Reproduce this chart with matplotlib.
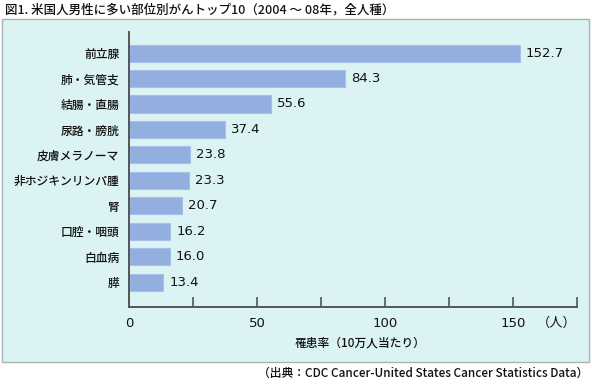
import matplotlib
matplotlib.use("Agg")
import matplotlib.pyplot as plt
from matplotlib.patches import Rectangle

plt.rcParams['font.family'] = ['Noto Sans CJK JP', 'DejaVu Sans']

categories = ["前立腺", "肺・気管支", "結腸・直腸", "尿路・膀胱", "皮膚メラノーマ",
              "非ホジキンリンパ腫", "腎", "口腔・咽頭", "白血病", "膵"]
values = [152.7, 84.3, 55.6, 37.4, 23.8, 23.3, 20.7, 16.2, 16.0, 13.4]
value_labels = ["152.7", "84.3", "55.6", "37.4", "23.8", "23.3", "20.7", "16.2", "16.0", "13.4"]
xticks = [0, 25, 50, 75, 100, 125, 150, 175]
xtick_labels = ["0", "", "50", "", "100", "", "150", "（人）"]

W, H = 592, 384
fig = plt.figure(figsize=(W / 100, H / 100), dpi=100)
fig.patch.set_facecolor("white")

# panel
panel = Rectangle((2 / W, 1 - 362 / H), 587 / W, (362 - 19) / H, transform=fig.transFigure,
                  facecolor="#dcf3f3", edgecolor="#a9b4b4", linewidth=1.0, zorder=0)
fig.patches.append(panel)

ax = fig.add_axes([129 / W, 1 - 307 / H, (577 - 129) / W, (307 - 32) / H])
ax.set_zorder(2)
ax.set_facecolor("none")

y = list(range(len(categories)))
ax.barh(y, values, height=0.67, color="#93afe0", edgecolor="#a9c0e8", linewidth=0.8, zorder=2)
for yi, v, lab in zip(y, values, value_labels):
    ax.text(v + 2.3, yi, lab, va="center", ha="left", fontsize=9.5, color="#111111",
            family=["DejaVu Sans"])

ax.set_xlim(0, 175)
ax.set_ylim(9.98, -0.83)
ax.set_yticks(y)
ax.set_yticklabels(categories, fontsize=8.5, color="#111111", fontweight="medium")
ax.tick_params(axis="y", length=0, pad=7)
ax.set_xticks(xticks)
ax.set_xticklabels(xtick_labels, fontsize=9.5, color="#111111")
ax.get_xticklabels()[-1].set_horizontalalignment("right")
for t in ax.get_xticklabels()[:-1]:
    t.set_family(["DejaVu Sans"])
ax.tick_params(axis="x", direction="in", length=7, width=1.2, color="#555555", pad=7)

for s in ["top", "right"]:
    ax.spines[s].set_visible(False)
for s in ["left", "bottom"]:
    ax.spines[s].set_color("#555555")
    ax.spines[s].set_linewidth(1.4)

fig.text(360 / W, 1 - 343 / H, "罹患率（10万人当たり）", ha="center", va="center",
         fontsize=8.5, color="#111111", fontweight="medium")
fig.text(5 / W, 1 - 10 / H, "図1. 米国人男性に多い部位別がんトップ10（2004 ～ 08年，全人種）",
         ha="left", va="center", fontsize=9, color="#111111", fontweight="medium")
fig.text(588 / W, 1 - 373 / H, "（出典：CDC Cancer-United States Cancer Statistics Data）",
         ha="right", va="center", fontsize=8.5, color="#111111", fontweight="medium")

fig.savefig("out.png", dpi=100)
